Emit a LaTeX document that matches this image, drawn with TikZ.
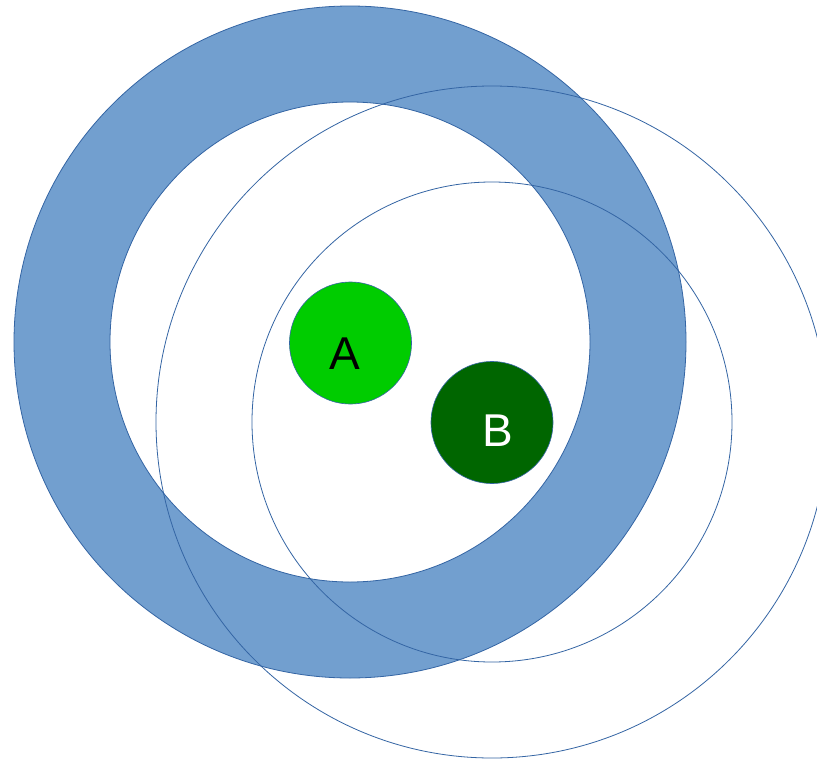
\documentclass[tikz,border=0pt]{standalone}
\usepackage{fontspec}
\setmainfont{Liberation Sans}
\definecolor{ringfill}{HTML}{729FCF}
\definecolor{ringline}{HTML}{3465A4}
\definecolor{agreen}{HTML}{00CC00}
\definecolor{bgreen}{HTML}{006600}
\tikzset{
  ring/.style={fill=ringfill, draw=ringline, line width=0.8pt, even odd rule},
  outline/.style={draw=ringline, line width=0.8pt},
  disc/.style={circle, draw=ringline, line width=0.6pt, minimum size=122pt, inner sep=0pt},
  lbl/.style={font=\fontsize{46}{46}\selectfont, inner sep=0pt}
}
\begin{document}
\begin{tikzpicture}[x=1pt,y=-1pt]
\useasboundingbox (0,0) rectangle (817,763);
\clip (0,0) rectangle (817,763);
\fill[white] (0,0) rectangle (817,763);
\path[ring] (350,342) circle[radius=336] (350,342) circle[radius=240];
\draw[outline] (492,422) circle[radius=336];
\draw[outline] (492,422) circle[radius=240];
\node[disc, fill=agreen] (A) at (350.5,343) {};
\node[disc, fill=bgreen] (B) at (492,422.5) {};
\node[lbl, text=black] (la) at (345,354) {A};
\node[lbl, text=white] (lb) at (498,431) {B};
\end{tikzpicture}
\end{document}
